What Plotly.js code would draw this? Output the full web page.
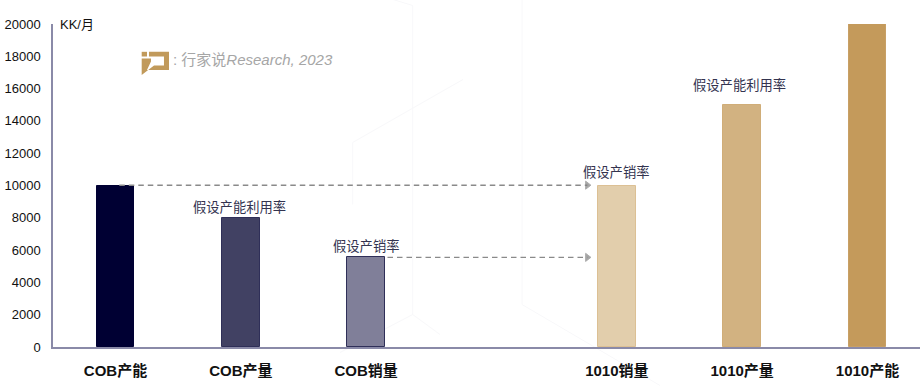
<!DOCTYPE html>
<html><head><meta charset="utf-8">
<script src="https://cdn.plot.ly/plotly-3.0.1.min.js"></script>
<style>html,body{margin:0;padding:0;background:#fff}</style></head>
<body><div id="c" style="width:920px;height:386px"></div>
<script>
const positions=[0,1,2,4,5,6];
const categories=['COB产能','COB产量','COB销量','1010销量','1010产量','1010产能'];
const values=[10000,8000,5600,10000,15000,20000];
const fills=['#000033','#414163','#807f99','#e2ceac','#d2b281','#c49a5b'];
const borders=['#000033','#2f2f58','#2f2f58','#dcc094','#d0ad78','#c8a066'];
const arrowA={x:[0.03,3.765],y:[10020,10020]};
const arrowB={x:[2.17,3.765],y:[5550,5550]};
const noteX=[1,2,4,5];
const noteY=[8000,5600,10000,15000];
const noteText=['假设产能利用率','假设产销率','假设产销率','假设产能利用率'];
const noteLift=[1,1,4,10];
const noteShift=[-1,0,-1,-3];
const cjk='"Liberation Sans","Noto Sans CJK SC",Arial,sans-serif';
function arrow(a){return {type:'scatter',mode:'lines+markers',x:a.x,y:a.y,hoverinfo:'skip',showlegend:false,
 line:{color:'#8a8a8a',width:1.4,dash:'5.5px,4px'},
 marker:{symbol:'triangle-right',size:[0,7],color:'#808080'}};}
const traces=[
 {type:'bar',x:positions,y:values,width:0.3,marker:{color:fills,line:{color:borders,width:1}},showlegend:false,hoverinfo:'x+y'},
 arrow(arrowA),arrow(arrowB)
];
const annotations=noteX.map((x,i)=>({x,y:noteY[i],xref:'x',yref:'y',text:noteText[i],showarrow:false,yanchor:'bottom',
 yshift:noteLift[i],xshift:noteShift[i],font:{family:cjk,size:13.3,color:'#33334f'}}));
const W=920,H=386;
function px(x){return (x-53)/867;}
function py(y){return (347.5-y)/323;}
annotations.push({xref:'paper',yref:'paper',x:px(57.5),y:py(25),xanchor:'left',yanchor:'middle',text:'KK/月',showarrow:false,
 font:{family:cjk,size:13,color:'#111'}});
annotations.push({xref:'paper',yref:'paper',x:px(171),y:py(60),xanchor:'left',yanchor:'middle',
 text:': 行家说<i>Research, 2023</i>',showarrow:false,font:{family:cjk,size:15,color:'#a6a6a6'}});
function poly(pts){return 'M'+pts.map(p=>px(p[0]).toFixed(4)+','+py(p[1]).toFixed(4)).join('L')+'Z';}
function faint(a,b){return {type:'line',xref:'paper',yref:'paper',layer:'below',x0:px(a[0]),y0:py(a[1]),x1:px(b[0]),y1:py(b[1]),line:{color:'#f8f8fa',width:1}};}
const gold='#c19a5b';
const shapes=[
 faint([393,0],[412.7,6]),faint([412.7,6],[412.7,315]),faint([412.7,315],[340,353]),
 faint([352.7,143],[463,80]),faint([352.7,143],[352.7,205]),
 faint([522,0],[522,305]),faint([522,305],[660,386]),
 faint([412.7,315],[440,335]),
 {type:'path',xref:'paper',yref:'paper',line:{width:0},fillcolor:gold,path:poly([[141.7,52.3],[147,52.3],[147,57],[141.7,57]])},
 {type:'path',xref:'paper',yref:'paper',line:{width:0},fillcolor:gold,path:poly([[141.7,59],[151,59],[151,62],[147,70.5],[169,70.5],[169,52.3],[149,52.3],[149,57],[164,57],[164,66],[154,66],[141.7,75.5]])}
];
Plotly.newPlot('c',traces,{
 width:W,height:H,paper_bgcolor:'#fff',plot_bgcolor:'#fff',bargap:0,
 margin:{l:53,r:0,t:24.3,b:38.7},
 font:{family:cjk},
 xaxis:{range:[-0.499,6.419],tickmode:'array',tickvals:positions,ticktext:categories.map(c=>'<b>'+c+'</b>'),showgrid:false,zeroline:false,
  showline:true,linecolor:'#8a8aa8',linewidth:1.5,ticks:'',tickfont:{family:cjk,size:15,color:'#111'},ticklabelstandoff:9},
 yaxis:{range:[0,20000],dtick:2000,tickformat:'d',showgrid:false,zeroline:false,showline:true,linecolor:'#8a8aa8',linewidth:1.5,ticks:'',
  tickfont:{family:cjk,size:13,color:'#111'},ticklabelstandoff:8},
 annotations,shapes
},{displayModeBar:false});
</script></body></html>
